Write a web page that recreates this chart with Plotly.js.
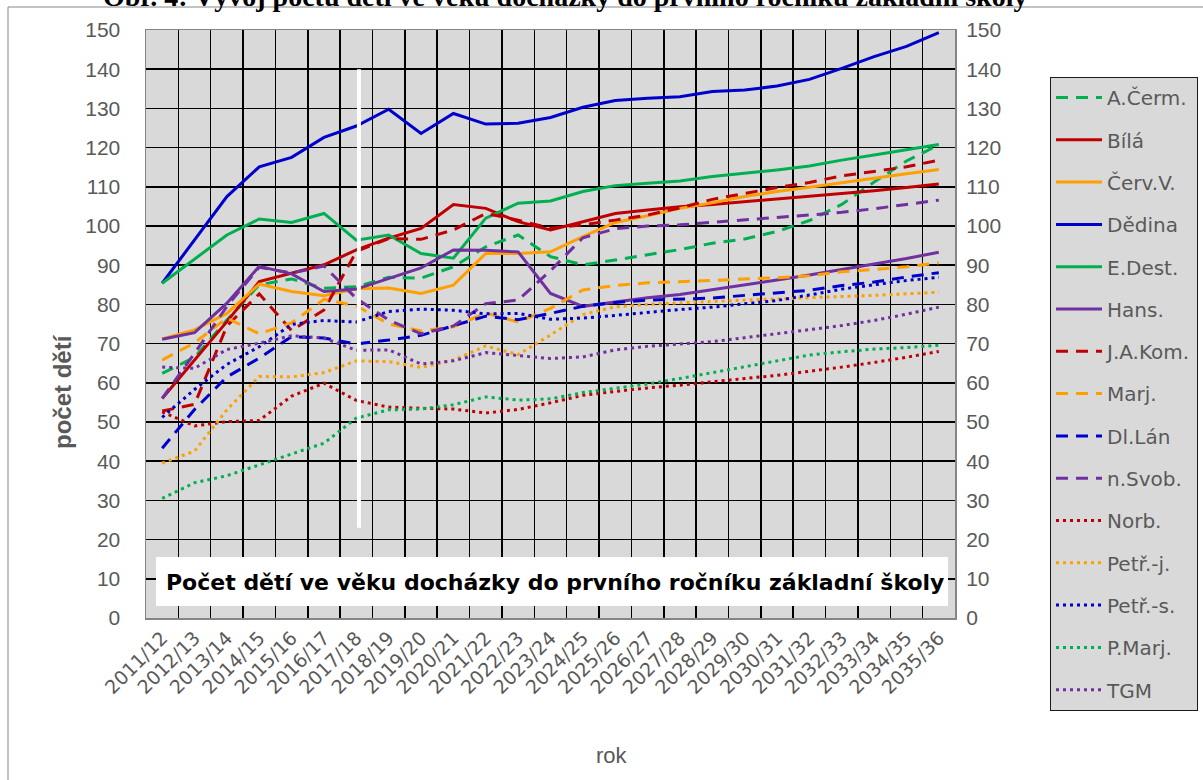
<!DOCTYPE html>
<html>
<head>
<meta charset="utf-8">
<script src="https://cdn.plot.ly/plotly-3.0.1.min.js"></script>
<style>
html,body{margin:0;padding:0;background:#fff;}
#chart{width:1203px;height:780px;}
</style>
</head>
<body>
<div id="chart"></div>
<script>
const categories = ['2011/12','2012/13','2013/14','2014/15','2015/16','2016/17','2017/18','2018/19','2019/20','2020/21','2021/22','2022/23','2023/24','2024/25','2025/26','2026/27','2027/28','2028/29','2029/30','2030/31','2031/32','2032/33','2033/34','2034/35','2035/36'];

const aCerm  = [62.4,66.5,76.0,85.0,86.5,84.1,84.5,86.9,86.7,89.6,94.7,97.7,92.2,90.1,91.3,92.6,94.0,95.6,96.7,98.6,101.4,105.5,111.2,116.6,120.7];
const bila   = [56.0,65.7,75.6,85.8,87.9,90.1,93.9,96.9,99.4,105.5,104.5,101.1,99.0,101.1,103.2,104.1,104.9,105.5,106.2,106.8,107.5,108.2,109.0,109.8,110.7];
const cervV  = [71.2,73.5,77.7,85.2,83.3,82.2,84.0,84.2,82.8,84.9,93.0,93.0,93.4,97.3,100.9,102.6,104.5,105.9,107.5,108.8,109.9,111.1,112.2,113.3,114.4];
const dedina = [85.4,96.4,107.5,115.1,117.5,122.6,125.5,129.8,123.6,128.7,126.0,126.2,127.7,130.3,132.0,132.6,133.0,134.3,134.7,135.7,137.4,140.2,143.2,145.8,149.3];
const eDest  = [85.4,91.5,97.7,101.8,100.9,103.2,96.4,97.7,93.0,91.8,102.0,105.8,106.4,108.8,110.3,110.9,111.5,112.6,113.4,114.3,115.3,116.8,118.1,119.4,120.8];
const hans   = [71.1,72.8,80.3,89.7,87.8,83.3,83.9,86.7,89.3,93.9,93.8,93.4,82.8,79.5,80.6,81.7,82.5,83.7,84.9,86.2,87.5,88.9,90.3,91.7,93.3];
const jaKom  = [52.8,54.5,74.5,82.7,73.3,78.6,93.5,96.8,96.6,99.0,103.2,101.5,99.4,100.3,101.5,102.8,104.6,106.8,108.3,109.8,111.1,112.8,113.9,115.1,116.8];
const marj   = [65.8,70.2,76.5,72.5,75.3,81.3,79.6,75.0,73.2,74.3,77.8,75.5,79.0,83.7,84.8,85.5,85.8,86.1,86.5,86.8,87.3,88.3,88.9,89.6,90.6];
const dlLan  = [43.3,53.2,61.5,66.3,71.8,71.4,69.9,70.9,72.1,74.6,77.0,76.1,77.7,79.5,80.5,81.1,81.3,81.6,82.3,82.9,83.6,84.8,85.7,87.0,88.1];
const nSvob  = [56.0,67.5,79.5,89.5,88.0,89.8,81.5,76.0,72.5,74.5,80.2,81.1,88.6,97.0,99.3,100.0,100.3,100.9,101.5,102.1,102.8,103.5,104.4,105.5,106.6];
const norb   = [52.6,49.0,50.1,50.4,56.6,59.9,55.5,53.8,53.5,53.3,52.3,53.2,54.9,56.8,57.8,58.7,59.4,60.3,61.1,61.9,62.9,64.0,65.2,66.5,68.0];
const petrJ  = [39.5,42.6,53.1,61.6,61.5,62.6,65.6,65.4,63.9,65.8,69.4,67.2,72.2,77.4,79.4,80.0,80.4,80.8,81.1,81.4,81.7,81.9,82.3,82.7,83.1];
const petrS  = [51.2,58.3,64.7,69.2,74.9,75.9,75.5,78.2,78.8,78.5,77.6,77.7,76.2,76.5,77.2,78.0,78.7,79.3,80.1,81.0,82.4,83.9,85.0,86.1,86.9];
const pMarj  = [30.5,34.5,36.3,39.1,41.8,44.6,51.0,53.1,53.3,54.4,56.4,55.6,55.9,57.5,58.6,59.7,61.1,62.6,64.1,65.7,67.1,67.9,68.6,69.0,69.6];
const tgm    = [64.0,63.7,68.5,70.1,72.0,71.4,68.3,68.4,64.8,65.6,67.7,66.9,66.2,66.6,68.4,69.3,69.9,70.5,71.5,72.5,73.6,74.6,75.9,77.5,79.3];

const seriesNames = ['A.Čerm.','Bílá','Červ.V.','Dědina','E.Dest.','Hans.','J.A.Kom.','Marj.','Dl.Lán','n.Svob.','Norb.','Petř.-j.','Petř.-s.','P.Marj.','TGM'];
const seriesValues = [aCerm,bila,cervV,dedina,eDest,hans,jaKom,marj,dlLan,nSvob,norb,petrJ,petrS,pMarj,tgm];

const GREEN='#00B050', RED='#C00000', ORANGE='#FF9F00', BLUE='#0000CC', PURPLE='#7030A0';
const seriesColors = [GREEN,RED,ORANGE,BLUE,GREEN,PURPLE,RED,ORANGE,BLUE,PURPLE,RED,ORANGE,BLUE,GREEN,PURPLE];
const DASH='12px,8px', DOT='3px,4px';
const seriesDash = [DASH,'solid','solid','solid','solid','solid',DASH,DASH,DASH,DASH,DOT,DOT,DOT,DOT,DOT];

const traces = seriesNames.map((n,i)=>({
  type:'scatter', mode:'lines', name:n, x:categories, y:seriesValues[i],
  legendgroup:n,
  line:{color:seriesColors[i], width:3, dash:seriesDash[i]},
  hoverinfo:'skip'
}));
// invisible helper trace so the right-hand axis is drawn
traces.push({type:'scatter', mode:'lines', x:categories, y:dedina, yaxis:'y2',
  showlegend:false, hoverinfo:'skip', line:{width:0, color:'rgba(0,0,0,0)'}, opacity:0});

const tickFont = {family:'Liberation Sans, Arial, sans-serif', size:21, color:'#595959'};

const L=146, R=955, T=30, B=618;
const px = v => (v-L)/(R-L);
const py = v => (B-v)/(B-T);

const layout = {
  width:1203, height:780,
  margin:{l:L, r:1203-R, t:T, b:780-B, pad:0},
  paper_bgcolor:'#ffffff', plot_bgcolor:'#D9D9D9',
  showlegend:true,
  xaxis:{type:'category', range:[-0.5,24.5], tickson:'boundaries',
    showgrid:true, gridcolor:'#000000', gridwidth:1.5,
    showline:true, linecolor:'#868686', linewidth:1.5, mirror:true,
    ticks:'outside', ticklen:8, tickcolor:'rgba(0,0,0,0)',
    tickangle:-45, tickfont:{family:'DejaVu Sans, sans-serif', size:19, color:'#595959'},
    fixedrange:true},
  yaxis:{range:[0,150], dtick:10, tick0:0,
    showgrid:true, gridcolor:'#000000', gridwidth:1.5, zeroline:false,
    showline:true, linecolor:'#868686', linewidth:1.5, mirror:true,
    ticks:'outside', ticklen:20, tickcolor:'rgba(0,0,0,0)',
    tickfont:tickFont, fixedrange:true},
  yaxis2:{range:[0,150], dtick:10, tick0:0, overlaying:'y', side:'right',
    showgrid:false, zeroline:false, showline:false,
    ticks:'outside', ticklen:6, tickcolor:'rgba(0,0,0,0)',
    tickfont:tickFont, fixedrange:true},
  legend:{x:1050/1203, y:1-77/780, xref:'container', yref:'container', xanchor:'left', yanchor:'top',
    maxheight:760,
    bgcolor:'#D9D9D9', bordercolor:'#1a1a1a', borderwidth:1,
    font:{family:'DejaVu Sans, sans-serif', size:20, color:'#595959'},
    traceorder:'grouped', tracegroupgap:13.3, itemwidth:46},
  shapes:[
    {type:'line', xref:'x', yref:'y', x0:6.08, x1:6.08, y0:23, y1:140,
     line:{color:'#ffffff', width:4}, layer:'above'},
    {type:'rect', xref:'paper', yref:'paper', x0:px(156), x1:px(948), y0:py(606), y1:py(557),
     fillcolor:'#ffffff', line:{width:0}, layer:'above'},
    {type:'rect', xref:'paper', yref:'paper', x0:px(8), x1:px(1230), y0:py(800), y1:py(7),
     fillcolor:'rgba(0,0,0,0)', line:{color:'#868686', width:1}, layer:'below'}
  ],
  annotations:[
    {xref:'paper', yref:'paper', x:px(555), y:py(582), xanchor:'center', yanchor:'middle',
     text:'<b>Počet dětí ve věku docházky do prvního ročníku základní školy</b>', showarrow:false,
     font:{family:'DejaVu Sans, sans-serif', size:22, color:'#000000'}},
    {xref:'paper', yref:'paper', x:px(62), y:py(392), xanchor:'center', yanchor:'middle',
     text:'<b>počet dětí</b>', textangle:-90, showarrow:false,
     font:{family:'Liberation Sans, Arial, sans-serif', size:24, color:'#595959'}},
    {xref:'paper', yref:'paper', x:px(612), y:py(755), xanchor:'center', yanchor:'middle',
     text:'rok', showarrow:false,
     font:{family:'Liberation Sans, Arial, sans-serif', size:22, color:'#595959'}},
    {xref:'paper', yref:'paper', x:px(565), y:py(14), xanchor:'center', yanchor:'bottom',
     text:'<b>Obr. 4: Vývoj počtu dětí ve věku docházky do prvního ročníku základní školy</b>', showarrow:false,
     font:{family:'Liberation Serif, Times New Roman, serif', size:28, color:'#000000'}}
  ]
};

Plotly.newPlot('chart', traces, layout, {displayModeBar:false, staticPlot:true});
</script>
</body>
</html>
